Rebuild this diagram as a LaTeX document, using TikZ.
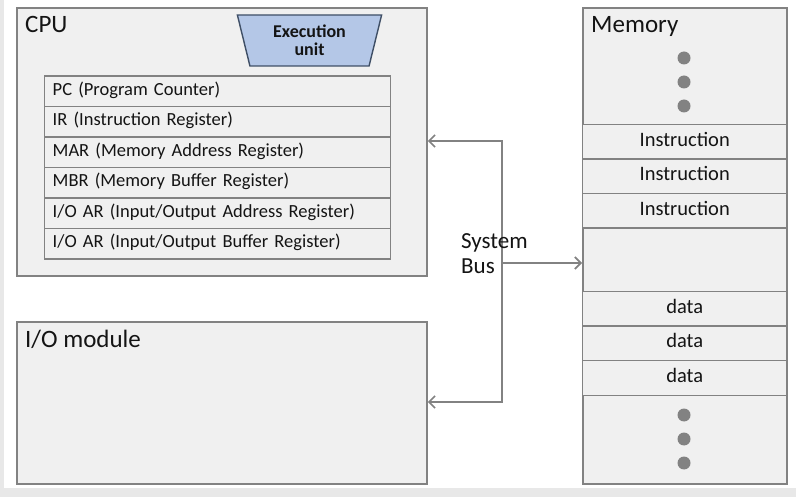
\documentclass[tikz,border=0pt]{standalone}
\usepackage{fontspec}
\setmainfont{Carlito}
\usetikzlibrary{shapes.geometric,arrows.meta}
\definecolor{boxfill}{HTML}{F0F0F0}
\definecolor{boxline}{HTML}{828282}
\definecolor{eufill}{HTML}{B4C7E7}
\definecolor{euline}{HTML}{3F4F66}
\definecolor{framegray}{HTML}{E8E8E8}
\definecolor{ink}{HTML}{141414}

\begin{document}
\begin{tikzpicture}[x=1pt,y=-1pt,>={Straight Barb[length=6pt,width=12pt]},
box/.style={draw=boxline, line width=1.8pt, fill=boxfill, anchor=north west, inner sep=0pt},
title/.style={font=\fontsize{25}{30}\selectfont, text=ink, anchor=base west, inner sep=0pt},
reg/.style={box, line width=1.4pt, minimum height=30.5pt, text width=330pt, inner xsep=8pt, align=left, text height=13pt, text depth=5pt, text=ink, font=\fontsize{18.5}{22}\selectfont},
cell/.style={box, line width=1.4pt, minimum width=204pt, minimum height=34.5pt, text height=14pt, text depth=5pt, text=ink, font=\fontsize{20.5}{24}\selectfont},
dot/.style={circle, fill=boxline, inner sep=0pt, minimum size=13pt},
bus/.style={draw=boxline, line width=1.7pt}]
% page and frame
\fill[framegray] (0,0) rectangle (796,497);
\fill[white] (4,0) rectangle (796,488);
\useasboundingbox (0,0) rectangle (796,497);

% CPU
\node[box, minimum width=410pt, minimum height=268pt] (cpu) at (16,7) {};
\node[title] (cpulabel) at (25,33) {CPU};
\node[trapezium, trapezium stretches=true, trapezium angle=76, shape border rotate=180, minimum width=145pt, minimum height=51pt, draw=euline, line width=1.4pt, fill=eufill, inner sep=0pt, align=center, text=ink, font=\bfseries\fontsize{18}{18}\selectfont] (exec) at (309.5,40.5) {Execution\\unit};
\foreach \txt [count=\i] in {PC (Program Counter), IR (Instruction Register), MAR (Memory Address Register), MBR (Memory Buffer Register), I/O AR (Input/Output Address Register), I/O AR (Input/Output Buffer Register)}
  \node[reg] (reg\i) at (44,{75.5+30.5*(\i-1)}) {\txt};

% I/O
\node[box, minimum width=410pt, minimum height=162pt] (io) at (16,321) {};
\node[title] (iolabel) at (25,348) {I/O module};

% Memory
\node[box, minimum width=204pt, minimum height=476pt] (mem) at (582,7) {};
\node[title] (memlabel) at (591,33) {Memory};
\foreach \y [count=\i] in {124,158.5,193}
  \node[cell] (ins\i) at (582,\y) {Instruction};
\foreach \y [count=\i] in {291,325.5,360}
  \node[cell] (data\i) at (582,\y) {data};
\foreach \y [count=\i] in {58,82,106,415,439,463}
  \node[dot] (dot\i) at (684,\y) {};

% system bus
\coordinate (bustop) at (502,141);
\coordinate (busmid) at (502,263);
\coordinate (busbot) at (502,402);
\draw[bus,<->] (cpu.east |- bustop) -- (bustop) -- (busbot) -- (io.east |- busbot);
\draw[bus,->] (busmid) -- (mem.west |- busmid);
\node[font=\fontsize{23}{25}\selectfont, text=ink, align=left, anchor=north west, inner sep=0pt] (buslabel) at (461,233) {System\\Bus};
\end{tikzpicture}
\end{document}
